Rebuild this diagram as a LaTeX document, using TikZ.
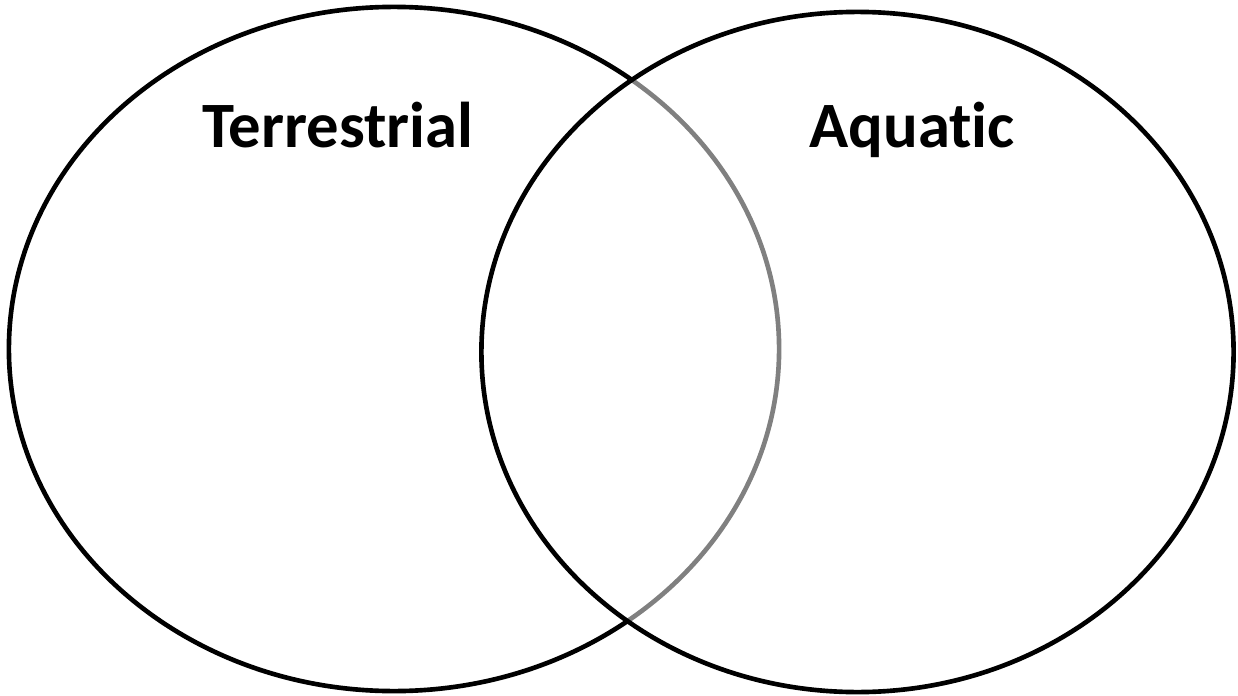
\documentclass[tikz,border=0pt]{standalone}
\usepackage{fontspec}
\setmainfont[Ligatures=NoCommon]{Carlito}
\usetikzlibrary{shapes.geometric}
\tikzset{
  set/.style={
    draw=black, ellipse, line width=3.3pt, inner sep=0pt
  },
  setlab/.style={font=\fontsize{46}{52}\selectfont\bfseries, inner sep=0pt}
}

\begin{document}
\begin{tikzpicture}[x=0.025cm,y=-0.025cm]
  \useasboundingbox (0,0) rectangle (1238,696);
  \node[set, minimum width=19.25cm, minimum height=17.1cm] (terr) at (394,349) {};
  \node[set, fill=white, fill opacity=0.5, minimum width=18.8cm, minimum height=17cm] (aqua) at (857.5,352) {};
  \node[setlab] (terrlab) at (338,125) {Terrestrial};
  \node[setlab] (aqualab) at (912,130) {Aquatic};
\end{tikzpicture}
\end{document}
